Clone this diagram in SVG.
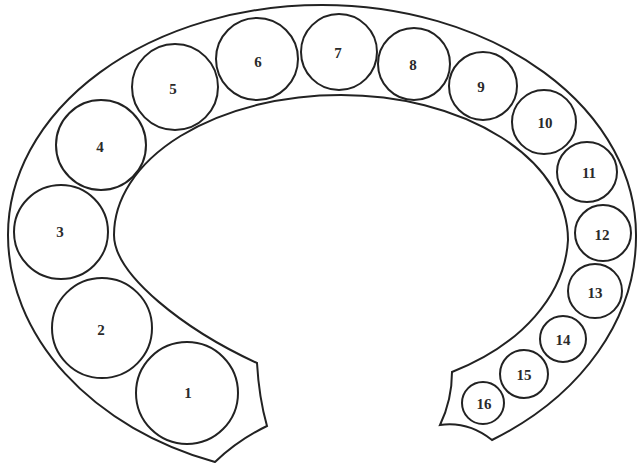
<svg xmlns="http://www.w3.org/2000/svg" width="639" height="468" viewBox="0 0 639 468">
<style>
.ln{fill:none;stroke:#222;stroke-width:2}
.c{fill:none;stroke:#222;stroke-width:2}
.t{font-family:"Liberation Serif","Times New Roman",serif;font-size:15px;font-weight:bold;fill:#2a2a2a;text-anchor:middle}
</style>
<rect width="639" height="468" fill="#fff"/>
<g id="ring">
<path class="ln" d="M215,462 A314,242 0 0 1 8,235 A314,230 0 0 1 322,5 A314,230 0 0 1 636,235 A314,242 0 0 1 492,440 Q468,421 440,425 Q452,400 452,372 A227,158 0 0 0 568,240 A227,145 0 0 0 341,95 A227,140 0 0 0 114,235 C114,275 185,330 257,363 Q259,398 267,426 Q238,440 215,462 Z"/>
</g>
<g id="n1"><circle class="c" cx="187" cy="393" r="51"/><text class="t" x="188" y="398">1</text></g>
<g id="n2"><circle class="c" cx="102" cy="328" r="50"/><text class="t" x="101" y="335">2</text></g>
<g id="n3"><circle class="c" cx="61" cy="232" r="47"/><text class="t" x="60" y="237">3</text></g>
<g id="n4"><circle class="c" cx="101" cy="145" r="45"/><text class="t" x="100" y="152">4</text></g>
<g id="n5"><circle class="c" cx="175" cy="87" r="43"/><text class="t" x="173" y="94">5</text></g>
<g id="n6"><circle class="c" cx="257" cy="59" r="41"/><text class="t" x="258" y="67">6</text></g>
<g id="n7"><circle class="c" cx="339" cy="52" r="38"/><text class="t" x="338" y="58">7</text></g>
<g id="n8"><circle class="c" cx="414" cy="64" r="36"/><text class="t" x="413" y="70">8</text></g>
<g id="n9"><circle class="c" cx="483" cy="86" r="34"/><text class="t" x="481" y="92">9</text></g>
<g id="n10"><circle class="c" cx="544" cy="122" r="32"/><text class="t" x="545" y="128">10</text></g>
<g id="n11"><circle class="c" cx="587" cy="172" r="30"/><text class="t" x="589" y="178">11</text></g>
<g id="n12"><circle class="c" cx="603" cy="233" r="28"/><text class="t" x="602" y="240">12</text></g>
<g id="n13"><circle class="c" cx="595" cy="291" r="27"/><text class="t" x="595" y="298">13</text></g>
<g id="n14"><circle class="c" cx="563" cy="339" r="23"/><text class="t" x="563" y="345">14</text></g>
<g id="n15"><circle class="c" cx="524" cy="374" r="24"/><text class="t" x="524" y="380">15</text></g>
<g id="n16"><circle class="c" cx="483" cy="403" r="21"/><text class="t" x="484" y="409">16</text></g>
</svg>
